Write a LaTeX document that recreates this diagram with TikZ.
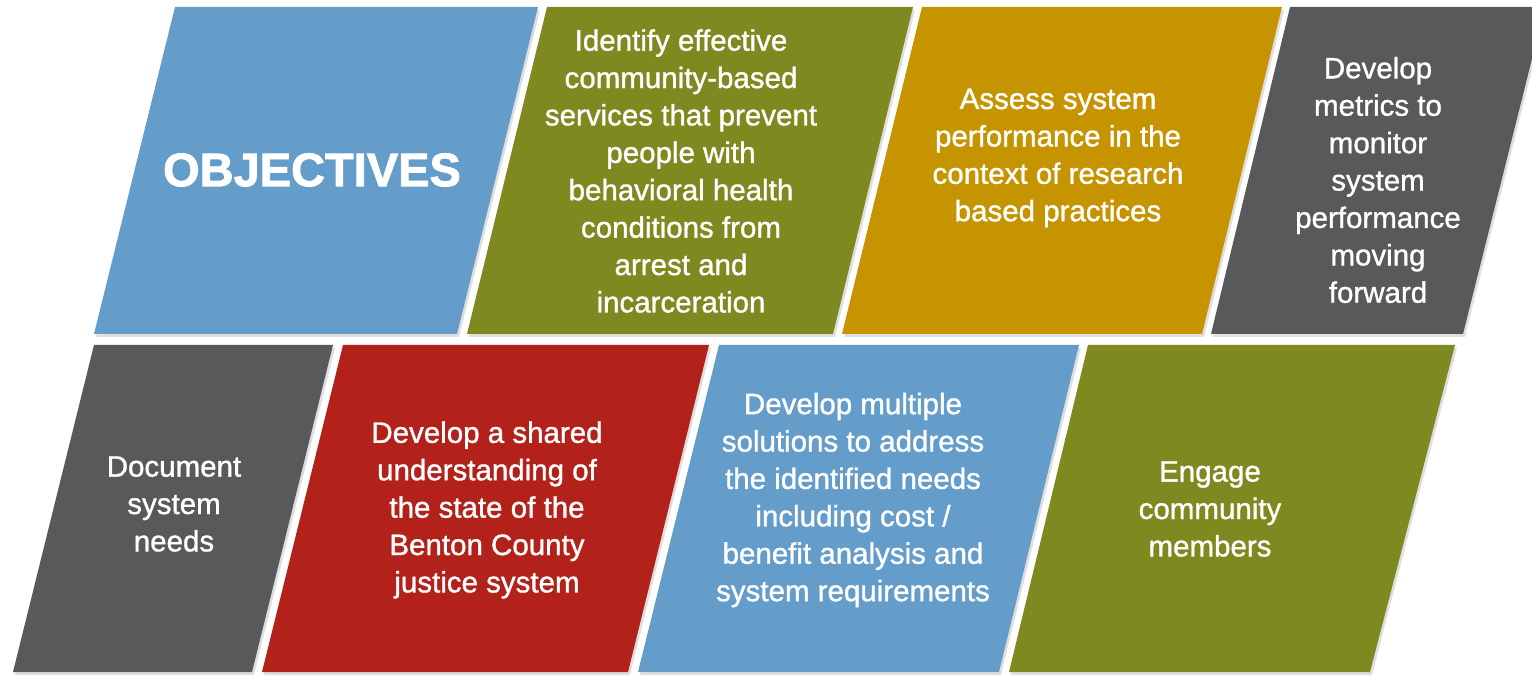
\documentclass[tikz,border=0pt]{standalone}
\usepackage{fontspec}
\setmainfont{Liberation Sans}
\newfontfamily\boxfont{Liberation Sans}[FakeBold=1.1]
\newfontfamily\headfont{Liberation Sans Bold}[FakeBold=1.8]
\usepackage{tikz}
\usetikzlibrary{shadows}

\definecolor{objblue}{HTML}{649DC9}
\definecolor{objolive}{HTML}{7E891F}
\definecolor{objgold}{HTML}{C59400}
\definecolor{objgray}{HTML}{58595B}
\definecolor{objred}{HTML}{B2221A}

\begin{document}
\begin{tikzpicture}[x=1pt,y=-1pt,
		band/.style={drop shadow={shadow xshift=2pt,shadow yshift=-3pt,opacity=0.25}}]
				\clip (0,0) rectangle (1532,676);
				\fill[white] (0,0) rectangle (1532,676);
				% top row
				\fill[band, objblue] (175,7) -- (538,7) -- (457,334) -- (94,334) -- cycle;
				\fill[band, objolive] (547,7) -- (913,7) -- (833,334) -- (467,334) -- cycle;
				\fill[band, objgold] (922,7) -- (1282,7) -- (1202,334) -- (842,334) -- cycle;
				\fill[band, objgray] (1290,7) -- (1545,7) -- (1463,334) -- (1211,334) -- cycle;
				% bottom row
				\fill[band, objgray] (94,345) -- (333,345) -- (252,672) -- (13,672) -- cycle;
				\fill[band, objred] (343,345) -- (709,345) -- (628,672) -- (262,672) -- cycle;
				\fill[band, objblue] (719,345) -- (1079,345) -- (999,672) -- (638,672) -- cycle;
				\fill[band, objolive] (1088,345) -- (1455,345) -- (1370,672) -- (1009,672) -- cycle;
				\begin{scope}[every node/.style={text=white, align=center,
						font=\boxfont\fontsize{29.5}{37.4}\selectfont}]
					\node[font=\headfont\fontsize{47}{50}\selectfont] (head) at (312,170) {OBJECTIVES};
					\node (identify) at (681,171) {Identify effective\\community-based\\services that prevent\\people with\\behavioral health\\conditions from\\arrest and\\incarceration};
					\node (assess) at (1058,158) {Assess system\\performance in the\\context of research\\based practices};
					\node (metrics) at (1378,180) {Develop\\metrics to\\monitor\\system\\performance\\moving\\forward};
					\node (needs) at (174,504) {Document\\system\\needs};
					\node (shared) at (487,510) {Develop a shared\\understanding of\\the state of the\\Benton County\\justice system};
					\node (solutions) at (853,500) {Develop multiple\\solutions to address\\the identified needs\\including cost /\\benefit analysis and\\system requirements};
					\node (engage) at (1210,509) {Engage\\community\\members};
				\end{scope}
			\end{tikzpicture}
\end{document}
